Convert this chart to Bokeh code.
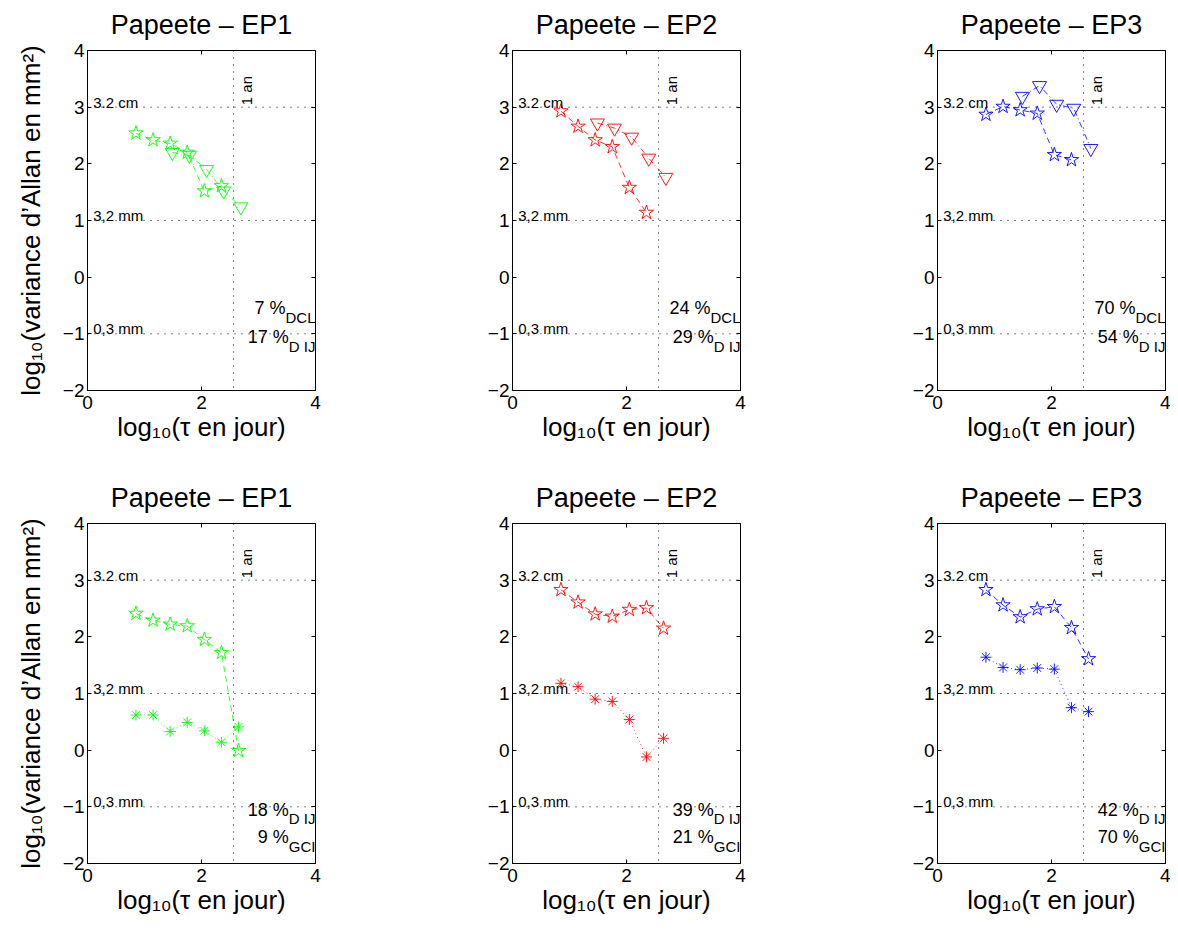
import math
from bokeh.plotting import figure
from bokeh.layouts import gridplot
from bokeh.models import Span, Label, LinearAxis, FixedTicker, Range1d
from bokeh.embed import file_html
from bokeh.resources import INLINE

FONT = "Liberation Sans"

# ---------------- data ----------------
# x positions: log10(tau in days)
x_star7 = [0.85, 1.15, 1.45, 1.75, 2.05, 2.35, 2.65]
x_star6 = [0.85, 1.15, 1.45, 1.75, 2.05, 2.35]
x_tri = [1.49, 1.79, 2.09, 2.39, 2.69]
one_year = 2.5626  # log10(365.25)

titles = ["Papeete – EP1", "Papeete – EP2", "Papeete – EP3"]
colors = ["#00ff00", "#ff0000", "#0000ff"]

top_star = [
    [2.54, 2.42, 2.36, 2.20, 1.52, 1.61],
    [2.93, 2.66, 2.42, 2.30, 1.58, 1.14],
    [2.87, 3.01, 2.95, 2.89, 2.16, 2.07],
]
top_tri = [
    [2.20, 2.15, 1.90, 1.52, 1.24],
    [2.72, 2.63, 2.47, 2.10, 1.76],
    [3.19, 3.38, 3.05, 2.98, 2.27],
]
bot_star = [
    [2.41, 2.29, 2.22, 2.19, 1.95, 1.72, -0.01],
    [2.83, 2.61, 2.40, 2.36, 2.48, 2.51, 2.15],
    [2.83, 2.56, 2.35, 2.49, 2.53, 2.16, 1.61],
]
bot_ast = [
    [0.62, 0.62, 0.33, 0.49, 0.34, 0.14, 0.41],
    [1.18, 1.12, 0.90, 0.86, 0.54, -0.12, 0.21],
    [1.64, 1.46, 1.42, 1.45, 1.43, 0.75, 0.68],
]

top_pct = [["7 %", "17 %"], ["24 %", "29 %"], ["70 %", "54 %"]]
top_sub = ["DCL", "D IJ"]
bot_pct = [["18 %", "9 %"], ["39 %", "21 %"], ["42 %", "70 %"]]
bot_sub = ["D IJ", "GCI"]

hlines = [3, 1, -1]
hline_labels = ["3.2 cm", "3,2 mm", "0,3 mm"]

x_ticks = [0, 2, 4]
y_ticks = [-2, -1, 0, 1, 2, 3, 4]
y_tick_text = {-2: "−2", -1: "−1", 0: "0", 1: "1", 2: "2", 3: "3", 4: "4"}

# ---------------- helpers ----------------
ARIAL = {'D': 722, 'C': 722, 'L': 556, ' ': 278, 'I': 278, 'J': 500, 'G': 778}


def text_width(s, size):
    return sum(ARIAL.get(c, 556) for c in s) * size / 1000.0


def make_panel(row, col):
    right_border = 110 if col < 2 else 5
    bottom_border = 83 if row == 0 else 70
    p = figure(frame_width=228, frame_height=340,
               x_range=Range1d(0, 4), y_range=Range1d(-2, 4),
               output_backend="svg", toolbar_location=None,
               min_border_left=87, min_border_right=right_border,
               min_border_top=50, min_border_bottom=bottom_border,
               background_fill_color="white", border_fill_color="white")
    p.grid.visible = False
    p.outline_line_color = "black"
    p.outline_line_width = 1

    p.title.text = titles[col]
    p.title.align = "center"
    p.title.vertical_align = "top"
    p.title.text_font = FONT
    p.title.text_font_size = "27px"
    p.title.text_font_style = "normal"
    p.title.text_color = "black"
    p.title.standoff = 17

    for ax in (p.xaxis[0], p.yaxis[0]):
        ax.major_tick_in = 4
        ax.major_tick_out = 0
        ax.minor_tick_in = 0
        ax.minor_tick_out = 0
        ax.axis_line_color = "black"
        ax.major_tick_line_color = "black"
        ax.major_label_text_font = FONT
        ax.major_label_text_font_size = "19px"
        ax.major_label_text_color = "black"
        ax.axis_label_text_font = FONT
        ax.axis_label_text_font_size = "26px"
        ax.axis_label_text_font_style = "normal"
        ax.axis_label_text_color = "black"
    p.xaxis.ticker = FixedTicker(ticks=x_ticks)
    p.yaxis.ticker = FixedTicker(ticks=y_ticks)
    p.yaxis.major_label_overrides = y_tick_text
    p.xaxis.major_label_standoff = 5
    p.yaxis.major_label_standoff = 3
    p.xaxis.axis_label = "log₁₀(τ en jour)"
    p.xaxis.axis_label_standoff = 0
    if col == 0:
        p.yaxis.axis_label = "log₁₀(variance d’Allan en mm²)"
        p.yaxis.axis_label_standoff = 14

    ax_r = LinearAxis(ticker=FixedTicker(ticks=y_ticks),
                      major_label_overrides={t: "" for t in y_ticks},
                      major_tick_in=4, major_tick_out=0, minor_tick_in=0, minor_tick_out=0,
                      axis_line_color=None, major_label_standoff=0)
    p.add_layout(ax_r, "right")
    ax_t = LinearAxis(ticker=FixedTicker(ticks=x_ticks),
                      major_label_overrides={t: "" for t in x_ticks},
                      major_tick_in=4, major_tick_out=0, minor_tick_in=0, minor_tick_out=0,
                      axis_line_color=None, major_label_standoff=0)
    p.add_layout(ax_t, "above")

    # reference lines
    for h, lab in zip(hlines, hline_labels):
        p.add_layout(Span(location=h, dimension="width", line_color="black",
                          line_dash="1 6", line_width=1))
        p.add_layout(Label(x=0.1, y=h, y_offset=5, text=lab, text_font=FONT,
                           text_font_size="15px", text_baseline="alphabetic",
                           text_align="left", text_color="black"))
    p.add_layout(Span(location=one_year, dimension="height", line_color="black",
                      line_dash="1 6", line_width=1))
    p.add_layout(Label(x=one_year, y=3, x_offset=13, y_offset=2, angle=math.pi / 2,
                       text="1 an", text_font=FONT, text_font_size="15px",
                       text_align="left", text_baseline="middle", text_color="black"))

    c = colors[col]
    if row == 0:
        p.line(x_star6, top_star[col], line_color=c, line_dash="6 4", line_width=0.8)
        p.line(x_tri, top_tri[col], line_color=c, line_dash="6 3 1 3", line_width=0.8)
        p.scatter(x_star6, top_star[col], marker="star", size=15, fill_color=None,
                  line_color=c, line_width=0.9)
        p.scatter(x_tri, top_tri[col], marker="inverted_triangle", size=14, fill_color=None,
                  line_color=c, line_width=0.9)
        pcts, subs, bases = top_pct[col], top_sub, [-0.55, -1.06]
    else:
        p.line(x_star7, bot_star[col], line_color=c, line_dash="6 4", line_width=0.8)
        p.line(x_star7, bot_ast[col], line_color=c, line_dash="1 3", line_width=0.8)
        p.scatter(x_star7, bot_star[col], marker="star", size=15, fill_color=None,
                  line_color=c, line_width=0.9)
        p.scatter(x_star7, bot_ast[col], marker="asterisk", size=11,
                  line_color=c, line_width=0.9)
        pcts, subs, bases = bot_pct[col], bot_sub, [-1.05, -1.54]

    for main, sub, yb in zip(pcts, subs, bases):
        p.add_layout(Label(x=4, y=yb, x_offset=-text_width(sub, 15), text=main,
                           text_font=FONT, text_font_size="18px", text_align="right",
                           text_baseline="alphabetic", text_color="black"))
        p.add_layout(Label(x=4, y=yb, y_offset=-9, text=sub,
                           text_font=FONT, text_font_size="15px", text_align="right",
                           text_baseline="alphabetic", text_color="black"))
    return p


panels = [[make_panel(r, c) for c in range(3)] for r in range(2)]
grid = gridplot(panels, toolbar_location=None)

open("out.html", "w").write(file_html(grid, INLINE))
